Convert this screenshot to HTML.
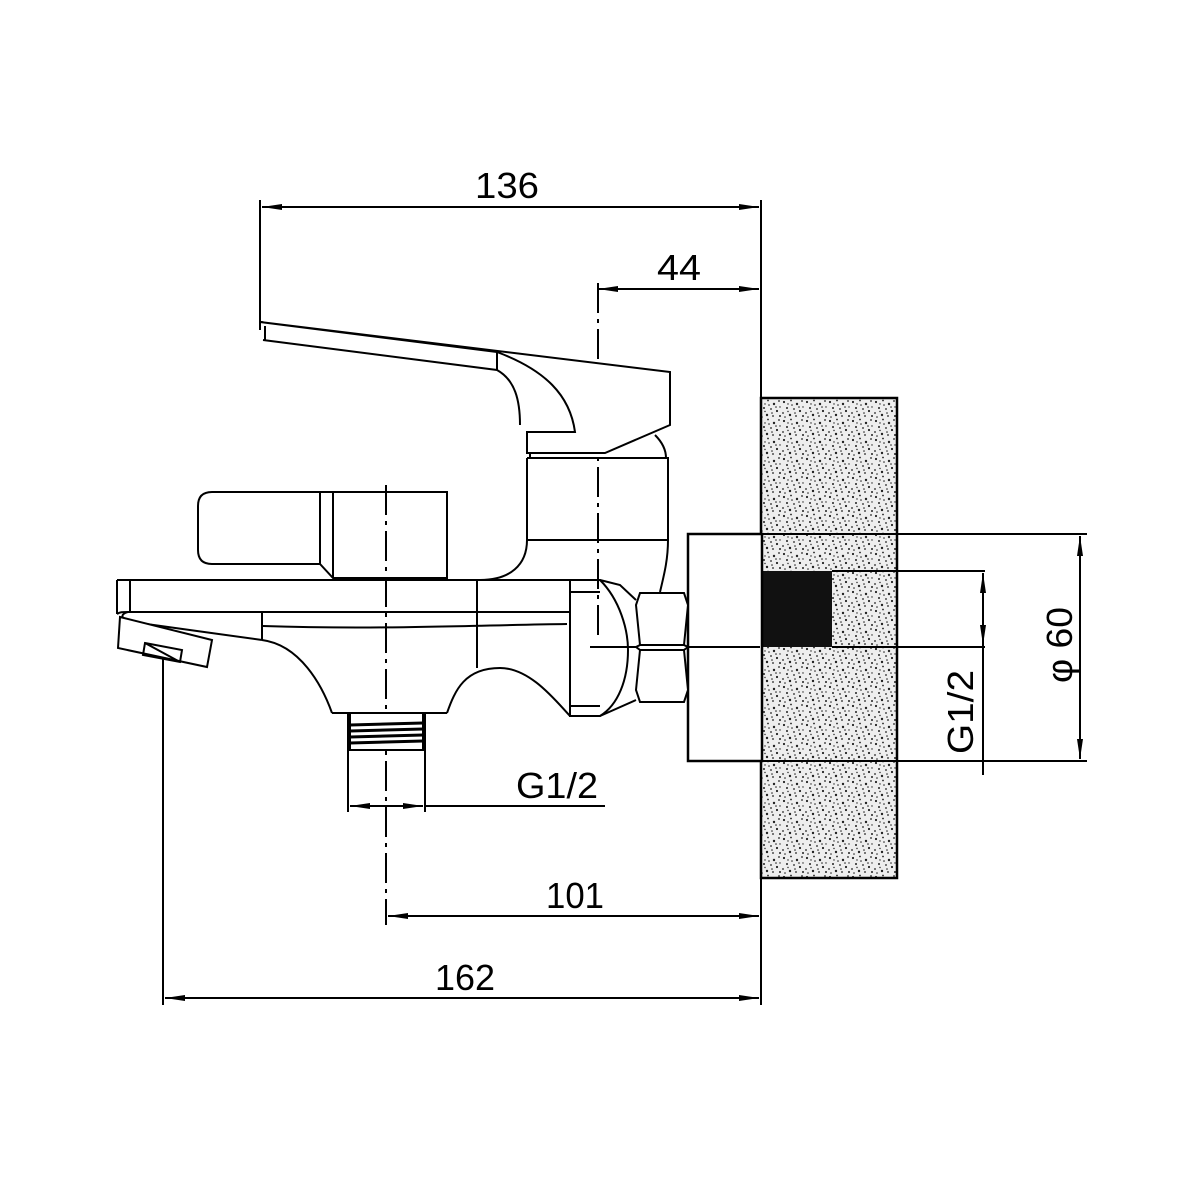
<!DOCTYPE html>
<html><head><meta charset="utf-8"><style>html,body{margin:0;padding:0;background:#fff}svg{display:block}</style></head>
<body>
<svg width="1200" height="1200" viewBox="0 0 1200 1200" xmlns="http://www.w3.org/2000/svg">
<defs>
<pattern id="st" width="23" height="19" patternUnits="userSpaceOnUse">
<rect width="23" height="19" fill="#eeeeee"/>
<g fill="#222">
<circle cx="2" cy="3" r="1.1"/><circle cx="9" cy="1.5" r="0.9"/><circle cx="15" cy="5" r="1.2"/><circle cx="20" cy="2" r="0.9"/>
<circle cx="5" cy="9" r="1"/><circle cx="12" cy="10" r="0.9"/><circle cx="18" cy="12" r="1.1"/><circle cx="1" cy="14" r="0.9"/>
<circle cx="8" cy="16" r="1.2"/><circle cx="14" cy="17" r="0.9"/><circle cx="21" cy="17" r="1"/><circle cx="10" cy="6" r="0.8"/>
<circle cx="3" cy="18" r="0.8"/><circle cx="17" cy="8" r="0.8"/><circle cx="6" cy="12.5" r="0.7"/><circle cx="21" cy="8" r="0.7"/>
<circle cx="13" cy="14" r="0.8"/><circle cx="6" cy="5" r="0.7"/>
</g>
</pattern>
<marker id="a" viewBox="0 0 20 8" refX="20" refY="4" markerWidth="20" markerHeight="8" orient="auto-start-reverse" markerUnits="userSpaceOnUse">
<path d="M0,1 L20,4 L0,7 Z" fill="#000"/>
</marker>
</defs>
<g fill="none" stroke="#000" stroke-width="2">
<!-- wall -->
<rect x="761" y="398" width="136" height="480" fill="url(#st)" stroke-width="2.5"/>
<rect x="762" y="571" width="70" height="76" fill="#111" stroke="none"/>
<line x1="832" y1="571" x2="985" y2="571"/>
<line x1="832" y1="647" x2="985" y2="647"/>
<!-- flange -->
<rect x="688" y="534" width="74" height="227" fill="#fff" stroke-width="2.5"/>
<line x1="762" y1="534" x2="1087" y2="534"/>
<line x1="762" y1="761" x2="1087" y2="761"/>
<line x1="1080" y1="536" x2="1080" y2="759" marker-start="url(#a)" marker-end="url(#a)"/>
<line x1="983" y1="573" x2="983" y2="775" marker-start="url(#a)"/>
<line x1="983" y1="600" x2="983" y2="645" marker-end="url(#a)"/>
<!-- main vertical ext -->
<line x1="761" y1="200" x2="761" y2="398"/>
<line x1="761" y1="878" x2="761" y2="1005"/>
<!-- 136 -->
<line x1="260" y1="200" x2="260" y2="330"/>
<line x1="262" y1="207" x2="759" y2="207" marker-start="url(#a)" marker-end="url(#a)"/>
<!-- 44 -->
<line x1="598" y1="289" x2="759" y2="289" marker-start="url(#a)" marker-end="url(#a)"/>
<line x1="598" y1="283" x2="598" y2="640" stroke-dasharray="30,6,4,6"/>
<!-- centerline 386 -->
<line x1="386" y1="485" x2="386" y2="925" stroke-dasharray="30,6,4,6"/>
<line x1="388" y1="916" x2="759" y2="916" marker-start="url(#a)" marker-end="url(#a)"/>
<!-- 162 -->
<line x1="163" y1="645" x2="163" y2="1005"/>
<line x1="165" y1="998" x2="759" y2="998" marker-start="url(#a)" marker-end="url(#a)"/>
<!-- G1/2 bottom -->
<line x1="348" y1="713" x2="348" y2="812"/>
<line x1="425" y1="713" x2="425" y2="812"/>
<line x1="386" y1="806" x2="350" y2="806" marker-end="url(#a)"/>
<line x1="386" y1="806" x2="423" y2="806" marker-end="url(#a)"/>
<line x1="425" y1="806" x2="605" y2="806"/>
<line x1="590" y1="647" x2="760" y2="647"/>

<!-- lever -->
<path d="M260,322 L670,372 L670,425 L605,453 L527,453 L527,432 L575,432 C570,395 545,370 497,352 Z" fill="#fff"/>
<path d="M263,340 L497,370 C515,380 520,400 520,425"/>
<line x1="265" y1="326" x2="265" y2="340"/>
<line x1="497" y1="352" x2="497" y2="370"/>
<path d="M655,435 C662,442 666,450 666,458"/>
<!-- body -->
<path d="M527,458 L668,458 L668,540 C668,560 664,575 660,592" />
<path d="M527,458 L527,540 C527,565 510,580 480,580"/>
<line x1="527" y1="540" x2="668" y2="540"/>
<line x1="530" y1="453" x2="530" y2="458"/>
<!-- handle -->
<path d="M212,492 L447,492 L447,578 L333,578 L320,564 L212,564 Q198,564 198,550 L198,506 Q198,492 212,492 Z"/>
<line x1="320" y1="492" x2="320" y2="564"/>
<line x1="333" y1="492" x2="333" y2="578"/>
<!-- spout -->
<line x1="117" y1="580" x2="575" y2="580"/>
<line x1="117" y1="580" x2="117" y2="614"/>
<line x1="130" y1="580" x2="130" y2="612"/>
<path d="M117,614 C120,612 122,612 128,612 L570,612 L570,622"/>
<path d="M263,626 C380,630 480,625 567,624"/>
<path d="M128,612 C120,614 120,619 132,622 L262,640"/>
<line x1="262" y1="612" x2="262" y2="640"/>
<path d="M120,617 L212,640 L207,667 L118,648 Z" fill="#fff"/>
<path d="M145,643 L182,650 L180,662 L143,655 Z M145,643 L180,662"/>
<path d="M262,640 C300,645 322,685 332,713"/>
<line x1="332" y1="713" x2="447" y2="713"/>
<path d="M447,713 C455,690 465,668 500,668 C530,668 555,700 570,716 L600,716"/>
<line x1="477" y1="580" x2="477" y2="668"/>
<!-- right piece -->
<path d="M570,580 L600,580 C620,600 628,630 628,650 C628,680 618,705 600,716 L570,716 Z"/>
<path d="M600,580 L620,585 L636,600 M600,716 L636,700"/>
<line x1="570" y1="592" x2="600" y2="592"/>
<line x1="570" y1="706" x2="600" y2="706"/>
<!-- nut -->
<path d="M640,593 L684,593 L688,605 L684,645 L688,647 L684,650 L688,690 L684,702 L640,702 L636,690 L640,650 L636,647 L640,645 L636,605 Z" fill="#fff"/>
<line x1="640" y1="645" x2="684" y2="645"/>
<line x1="640" y1="650" x2="684" y2="650"/>
<!-- thread bottom -->
<rect x="350" y="713" width="73" height="37" fill="#fff"/>
<g stroke-width="3"><line x1="350" y1="725" x2="423" y2="723"/><line x1="350" y1="731" x2="423" y2="729"/><line x1="350" y1="737" x2="423" y2="735"/><line x1="350" y1="743" x2="423" y2="741"/></g>
</g>
<g font-family="Liberation Sans, sans-serif" font-size="36" fill="#000">
<text x="507" y="198" text-anchor="middle" textLength="64" lengthAdjust="spacingAndGlyphs">136</text>
<text x="679" y="280" text-anchor="middle" textLength="44" lengthAdjust="spacingAndGlyphs">44</text>
<text x="575" y="908" text-anchor="middle" textLength="58" lengthAdjust="spacingAndGlyphs">101</text>
<text x="465" y="990" text-anchor="middle" textLength="60" lengthAdjust="spacingAndGlyphs">162</text>
<text x="557" y="798" text-anchor="middle" textLength="82" lengthAdjust="spacingAndGlyphs">G1/2</text>
<text transform="translate(973,712) rotate(-90)" text-anchor="middle" textLength="84" lengthAdjust="spacingAndGlyphs">G1/2</text>
<text transform="translate(1072,645) rotate(-90)" text-anchor="middle" textLength="76" lengthAdjust="spacingAndGlyphs">φ 60</text>
</g>
</svg>
</body></html>
